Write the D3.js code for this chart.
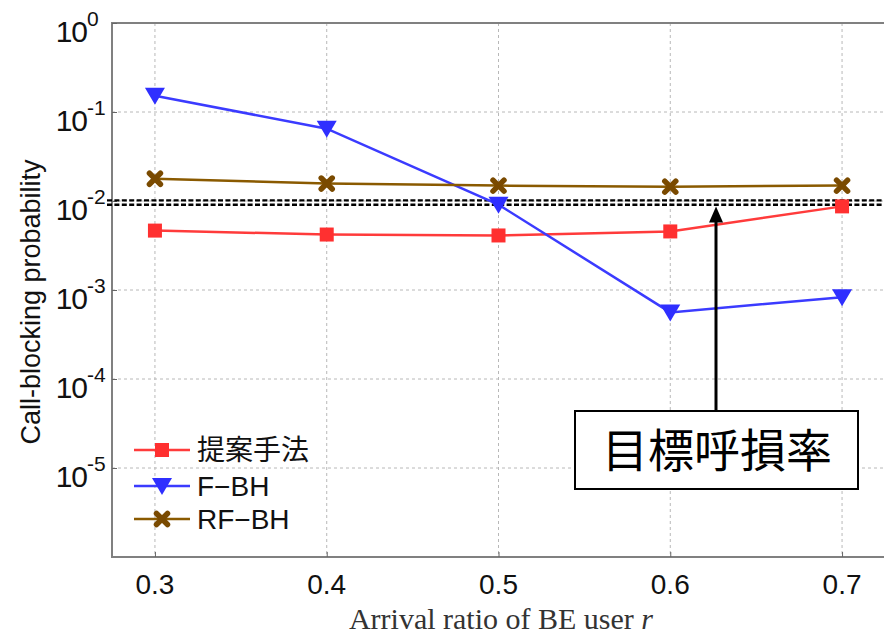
<!DOCTYPE html>
<html><head><meta charset="utf-8">
<script src="https://cdn.jsdelivr.net/npm/d3@7/dist/d3.min.js"></script>
<style>body{margin:0;background:#fff}svg{display:block}</style>
</head><body>
<svg id="c" width="884" height="637"></svg>
<script>
const xValues = [0.3, 0.4, 0.5, 0.6, 0.7];
const proposed = [0.00465, 0.00420, 0.00410, 0.00455, 0.00870];
const fbh = [0.152, 0.065, 0.0091, 0.00056, 0.00083];
const rfbh = [0.0178, 0.0157, 0.0149, 0.0145, 0.0149];
const targetRate = 0.0096;
const yTickExps = [0, -1, -2, -3, -4, -5];
const xTickLabels = ["0.3", "0.4", "0.5", "0.6", "0.7"];
const seriesNames = ["提案手法", "F\u2212BH", "RF\u2212BH"];
const annotationText = "目標呼損率";
const yLabel = "Call-blocking probability";

const svg = d3.select("#c");
const L = 112, R = 885, T = 23, B = 557;
const x = d3.scaleLinear().domain([0.275, 0.725]).range([L, R]);
const y = d3.scaleLog().domain([1e-6, 1]).range([B, T]);
const SANS = "Liberation Sans, Arial, sans-serif";

// grid
const g = svg.append("g");
g.selectAll(".vg").data(xValues).enter().append("line")
  .attr("x1", d => x(d)).attr("x2", d => x(d)).attr("y1", T).attr("y2", B)
  .attr("stroke", "#b8b8b8").attr("stroke-width", 1).attr("stroke-dasharray", "3,3");
g.selectAll(".hg").data(yTickExps).enter().append("line")
  .attr("x1", L).attr("x2", R).attr("y1", d => y(Math.pow(10, d))).attr("y2", d => y(Math.pow(10, d)))
  .attr("stroke", "#b8b8b8").attr("stroke-width", 1).attr("stroke-dasharray", "3,3");

// frame
svg.append("rect").attr("x", L).attr("y", T).attr("width", R - L).attr("height", B - T)
  .attr("fill", "none").attr("stroke", "#808080").attr("stroke-width", 2);

// axes ticks
const yAxis = d3.axisLeft(y).tickValues(yTickExps.map(e => Math.pow(10, e))).tickSize(-5).tickFormat("");
svg.append("g").attr("transform", `translate(${L},0)`).call(yAxis)
  .call(s => s.select(".domain").remove())
  .call(s => s.selectAll("line").attr("stroke", "#666"));
const xAxis = d3.axisBottom(x).tickValues(xValues).tickSize(-5).tickFormat("");
svg.append("g").attr("transform", `translate(0,${B})`).call(xAxis)
  .call(s => s.select(".domain").remove())
  .call(s => s.selectAll("line").attr("stroke", "#666"));

// y tick labels
yTickExps.forEach(e => {
  const yy = y(Math.pow(10, e));
  svg.append("text").attr("x", 87).attr("y", yy + 19)
    .attr("text-anchor", "end").attr("font-family", SANS)
    .attr("font-size", 30).attr("fill", "#111").attr("letter-spacing", -1).text("10");
  svg.append("text").attr("x", 87).attr("y", yy + 3)
    .attr("text-anchor", "start").attr("font-family", SANS)
    .attr("font-size", 21).attr("fill", "#111").text(e === 0 ? "0" : "-" + Math.abs(e));
});
// x tick labels
xValues.forEach((v, i) => {
  svg.append("text").attr("x", x(v)).attr("y", 594).attr("text-anchor", "middle")
    .attr("font-family", SANS).attr("font-size", 28).attr("fill", "#111")
    .text(xTickLabels[i]);
});
// axis labels
svg.append("text").attr("transform", `translate(40,302) rotate(-90)`)
  .attr("text-anchor", "middle").attr("font-family", SANS)
  .attr("font-size", 27).attr("fill", "#111").text(yLabel);
const xl = svg.append("text").attr("x", 501).attr("y", 629).attr("text-anchor", "middle")
  .attr("font-family", "Liberation Serif, serif").attr("font-size", 30).attr("fill", "#333");
xl.append("tspan").text("Arrival ratio of BE user ");
xl.append("tspan").attr("font-style", "italic").text("r");

// target line (double dashed)
[-2.2, 2.2].forEach(o => {
  svg.append("line").attr("x1", 107).attr("x2", 884)
    .attr("y1", y(targetRate) + o).attr("y2", y(targetRate) + o)
    .attr("stroke", "#000").attr("stroke-width", 2.4).attr("stroke-dasharray", "5,2.4");
});

const colors = ["#ff3b3b", "#3b3bff", "#8a5a00"];
const markerColors = ["#ff3030", "#2f2fff", "#7a4a00"];
const data = [proposed, fbh, rfbh];
const line = d3.line().x((d, i) => x(xValues[i])).y(d => y(d));

function drawMarker(sel, k, cx, cy) {
  if (k === 0) {
    sel.append("rect").attr("x", cx - 7).attr("y", cy - 7).attr("width", 14).attr("height", 14)
      .attr("fill", markerColors[0]);
  } else if (k === 1) {
    sel.append("path").attr("d", `M${cx - 10},${cy - 8}L${cx + 10},${cy - 8}L${cx},${cy + 9}Z`)
      .attr("fill", markerColors[1]);
  } else {
    sel.append("path").attr("d", `M${cx - 5.5},${cy - 5.5}L${cx + 5.5},${cy + 5.5}M${cx + 5.5},${cy - 5.5}L${cx - 5.5},${cy + 5.5}`)
      .attr("stroke", markerColors[2]).attr("stroke-width", 5.5).attr("stroke-linecap", "round");
  }
}

data.forEach((s, k) => {
  svg.append("path").datum(s).attr("d", line).attr("fill", "none")
    .attr("stroke", colors[k]).attr("stroke-width", 2.5);
  s.forEach((v, i) => drawMarker(svg, k, x(xValues[i]), y(v)));
});

// legend
const legY = [450, 486, 519];
seriesNames.forEach((n, k) => {
  svg.append("line").attr("x1", 134).attr("x2", 190).attr("y1", legY[k]).attr("y2", legY[k])
    .attr("stroke", colors[k]).attr("stroke-width", 2.5);
  drawMarker(svg, k, 162, legY[k]);
  svg.append("text").attr("x", 197).attr("y", legY[k] + 10)
    .attr("font-family", k === 0 ? "Noto Sans CJK JP, sans-serif" : SANS)
    .attr("font-size", 28).attr("fill", "#111").text(n);
});

// annotation
const ax = 716;
svg.append("line").attr("x1", ax).attr("x2", ax).attr("y1", 411).attr("y2", 220)
  .attr("stroke", "#000").attr("stroke-width", 3);
svg.append("path").attr("d", `M${ax},${y(targetRate) + 4}L${ax - 7},${y(targetRate) + 20}L${ax + 7},${y(targetRate) + 20}Z`)
  .attr("fill", "#000");
svg.append("rect").attr("x", 575).attr("y", 411).attr("width", 283).attr("height", 78)
  .attr("fill", "#fff").attr("stroke", "#000").attr("stroke-width", 2);
svg.append("text").attr("x", 717).attr("y", 467).attr("text-anchor", "middle")
  .attr("font-family", "Noto Sans CJK JP, sans-serif").attr("font-size", 46).attr("fill", "#000")
  .text(annotationText);
</script>
</body></html>
